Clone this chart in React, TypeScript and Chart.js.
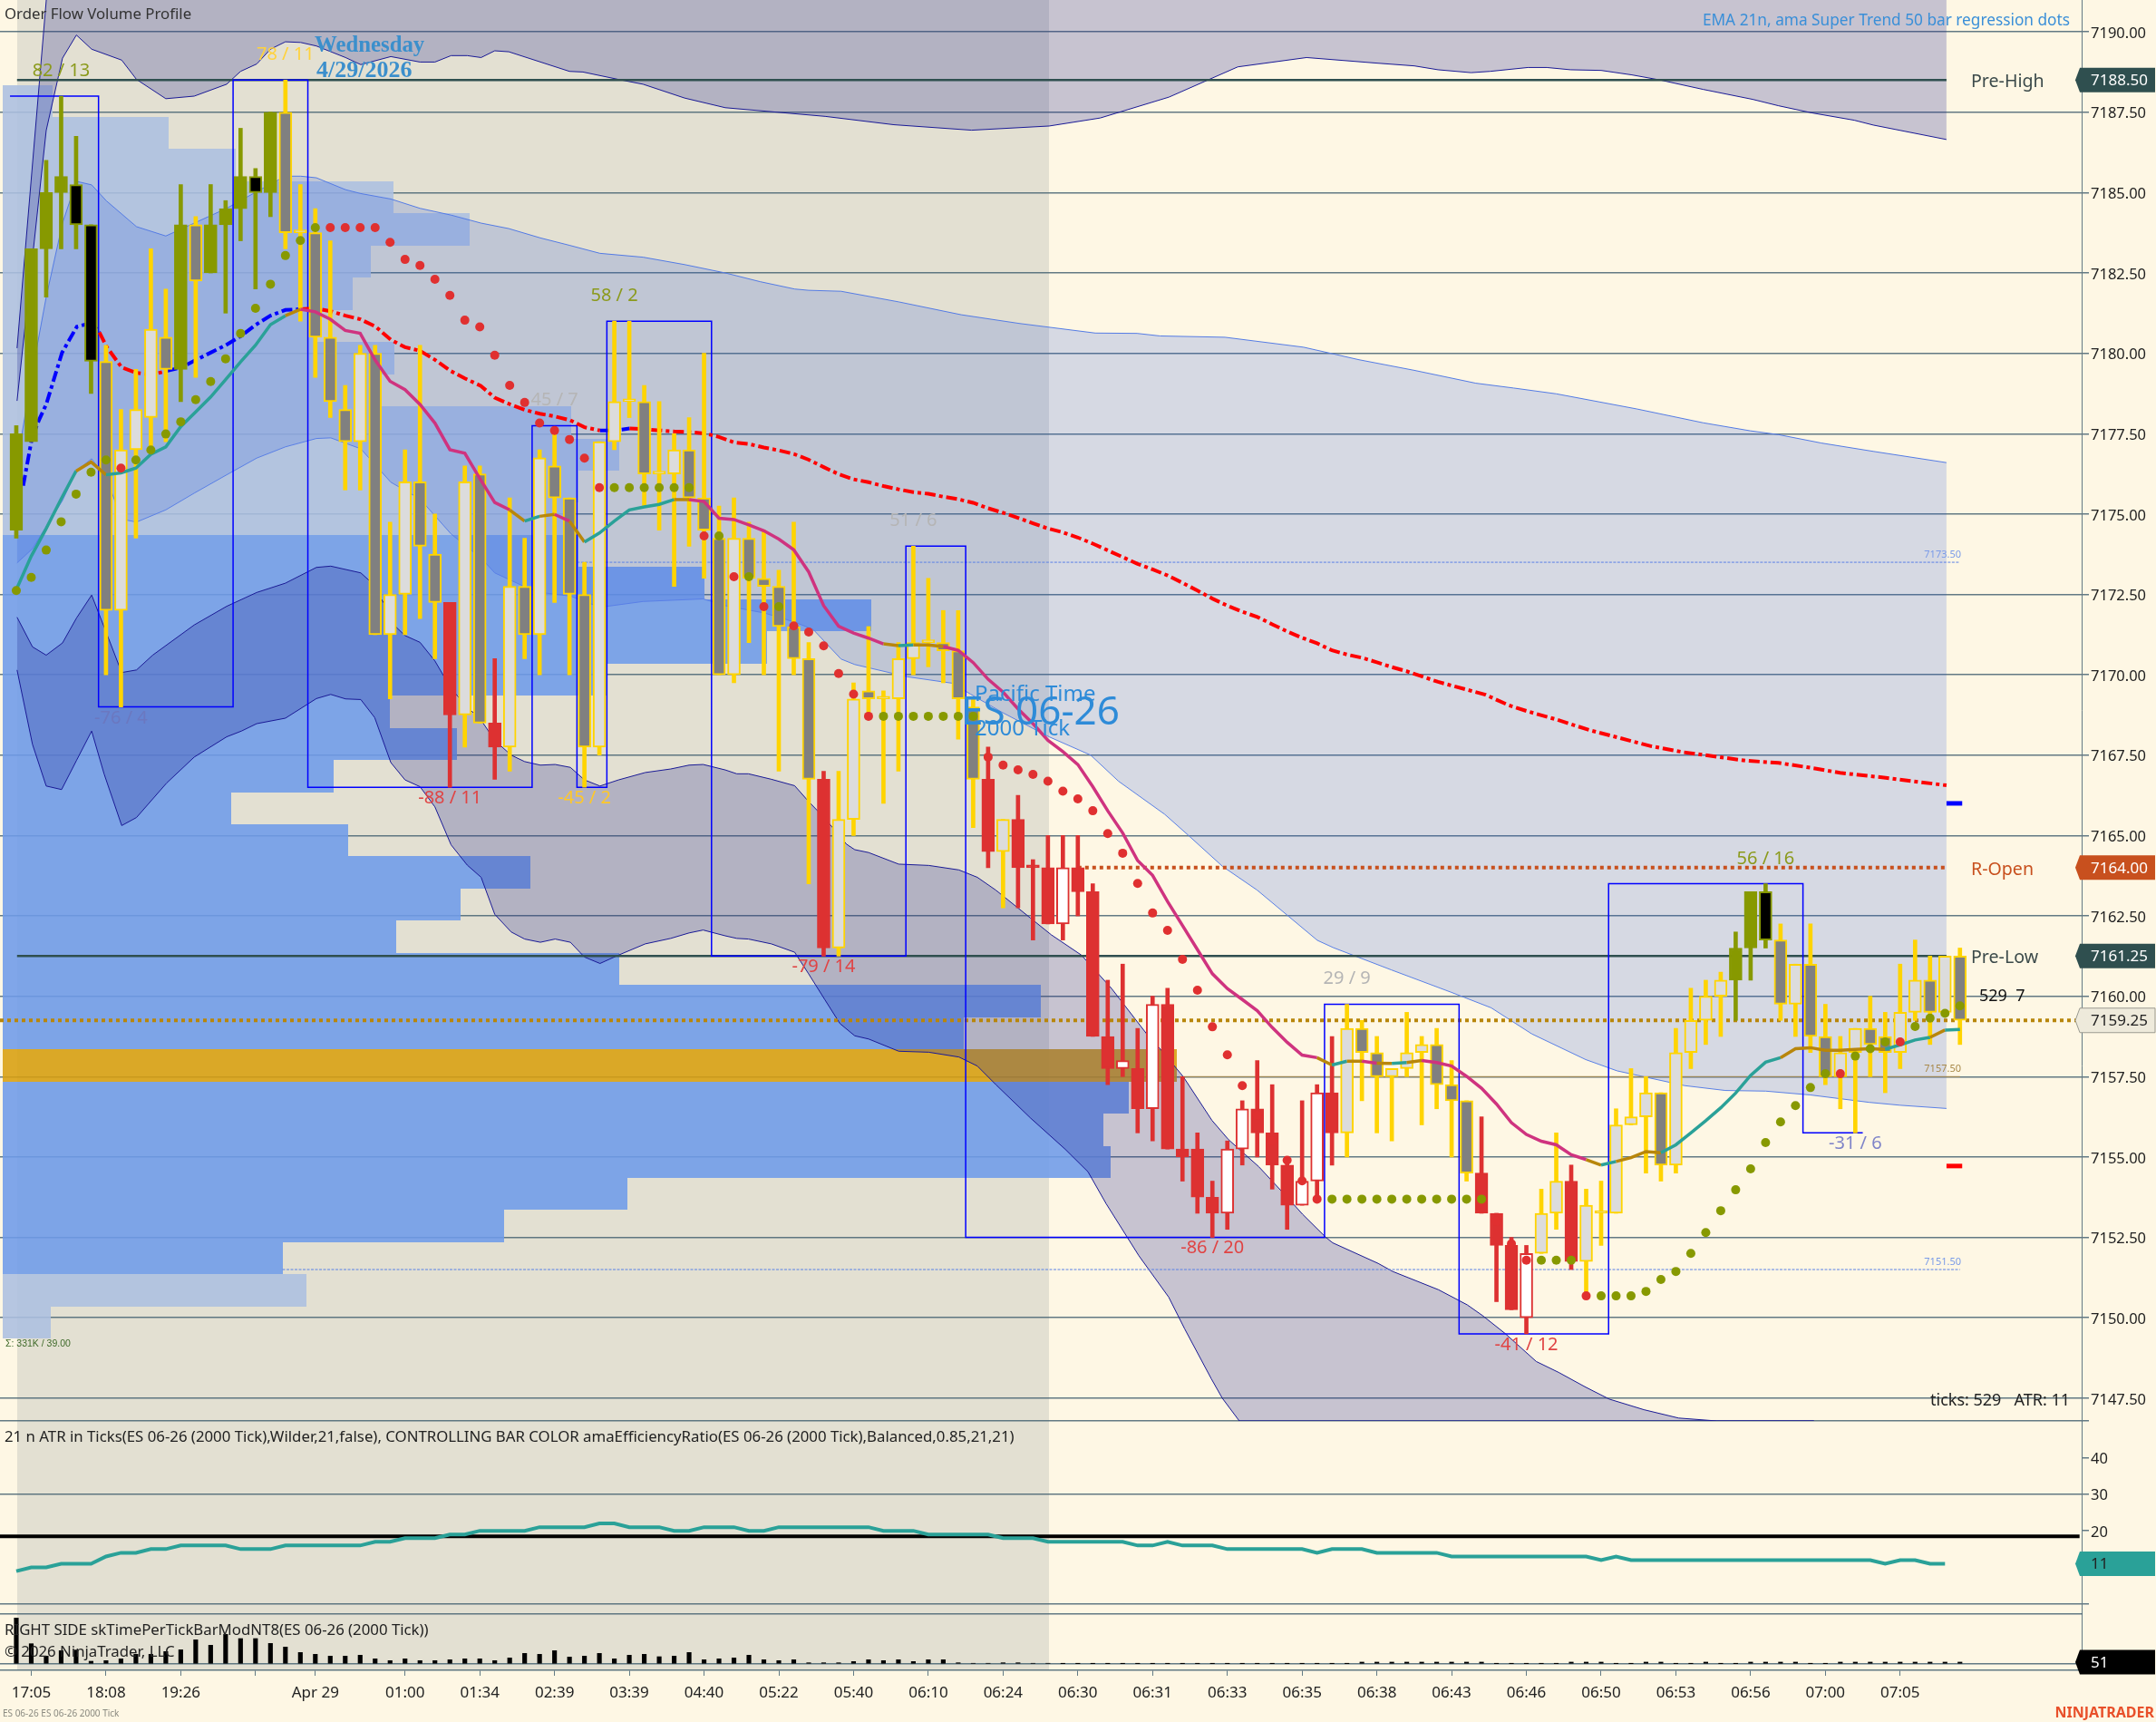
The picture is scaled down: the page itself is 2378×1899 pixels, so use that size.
import React, { useEffect, useRef } from "react";
import { Chart, registerables } from "chart.js";

Chart.register(...registerables);

const bodyTop = [
  7177.5,7183.25,7185,7185.5,7185.25,7184,7179.75,7177,7178.25,7180.75,
  7180.5,7184,7184,7184,7184.5,7185.5,7185.5,7187.5,7187.5,7183.75,
  7183.75,7180.5,7178.25,7180,7180,7172.5,7176,7176,7173.75,7172.25,
  7176,7176.25,7168.5,7172.75,7172.75,7176.75,7176.5,7175.5,7172.5,7177.25,
  7178.5,7178.5,7178.5,7176.25,7177,7177,7175.5,7174.25,7174.25,7174.25,
  7173,7172.75,7171.5,7170.5,7166.75,7165.5,7169.25,7169.5,7169.25,7170.5,
  7171,7171,7171,7170.75,7169,7166.75,7165.5,7165.5,7164,7164,
  7164,7164,7163.25,7158.75,7158,7157.75,7159.75,7159.75,7155.25,7155.25,
  7153.75,7155.25,7156.5,7156.5,7155.75,7154.75,7154.25,7157,7157,7159,
  7159,7158.25,7157.75,7158.25,7158.5,7158.5,7157.25,7156.75,7154.5,7153.25,
  7152.25,7152,7153.25,7154.25,7154.25,7153.5,7153.25,7156,7156.25,7157,
  7157,7158.25,7159.25,7160,7160.5,7161.5,7163.25,7163.25,7161.75,7161,
  7161,7158.75,7158.25,7159,7159,7158.75,7159.5,7160.5,7160.5,7161.25,7161.25,
];
const bodyBot = [
  7174.5,7177.25,7183.25,7185,7184,7179.75,7172,7172,7177,7178,
  7179.5,7179.5,7182.25,7182.5,7184,7184.5,7185,7185,7183.75,7183.75,
  7180.5,7178.5,7177.25,7177.25,7171.25,7171.25,7172.5,7174,7172.25,7168.75,
  7168.75,7168.5,7167.75,7167.75,7171.25,7171.25,7175.5,7172.5,7167.75,7167.75,
  7177.25,7178.5,7176.25,7176.25,7176.25,7175.5,7174.5,7170,7170,7173,
  7172.75,7171.5,7170.5,7166.75,7161.5,7161.5,7165.5,7169.25,7169.25,7169.25,
  7170.5,7171,7170.75,7169.25,7166.75,7164.5,7164.5,7164,7164,7162.25,
  7162.25,7163.25,7158.75,7157.75,7157.75,7156.5,7156.5,7155.25,7155,7153.75,
  7153.25,7153.25,7155.25,7155.75,7154.75,7153.5,7153.5,7154.25,7155.75,7155.75,
  7158.25,7157.5,7157.5,7157.75,7158.25,7157.25,7156.75,7154.5,7153.25,7152.25,
  7150.25,7150,7152,7153.25,7151.75,7151.75,7153.25,7153.25,7156,7156.25,
  7154.75,7154.75,7158.25,7159.25,7160,7160.5,7161.5,7161.75,7159.75,7159.75,
  7158.75,7157.5,7157.5,7158.25,7158.5,7158.25,7158.25,7159.5,7159.5,7159.5,7159.25,
];
const wickHigh = [
  7177.75,7183.25,7186,7188,7186.75,7184,7180.25,7178.25,7179.5,7183.25,
  7182,7185.25,7184.25,7185.25,7184.75,7187,7185.75,7187.5,7188.5,7185.25,
  7184.5,7183.5,7179,7180.25,7180.25,7174.75,7177,7180.25,7175,7172.25,
  7176.5,7176.5,7170.5,7175.5,7174.25,7177,7177.5,7175.5,7173.5,7177.25,
  7181,7181,7179,7178.5,7177.5,7178,7180,7175.25,7175.5,7174.75,
  7174.5,7173.25,7174.75,7171,7167,7167,7169.75,7171.5,7169.5,7171,
  7174,7173,7172,7172,7169.25,7167.75,7165.5,7166.25,7164.25,7165,
  7165,7165,7163.5,7160.5,7161,7159,7160,7160.25,7157.5,7155.75,
  7154.25,7155.5,7156.75,7158,7157.25,7155,7156.75,7157.25,7158.75,7159.75,
  7159.25,7158.75,7157.75,7159.5,7158.75,7159,7158,7156.75,7156.25,7153.25,
  7152.5,7152.25,7154,7155.75,7154.75,7154,7154.25,7156.5,7157.75,7157.5,
  7157,7159,7160.25,7160.5,7160.75,7162,7163.25,7163.5,7162.25,7161,
  7162.25,7159.75,7158.75,7159,7160,7159.5,7161,7161.75,7161.25,7161.25,7161.5,
];
const wickLow = [
  7174.25,7177.25,7181.75,7183.25,7183.25,7178.75,7170,7169,7174.25,7177,
  7177.25,7178.5,7179.25,7182.5,7181.25,7183.5,7182,7184.25,7183.25,7181,
  7179.25,7178,7175.75,7175.75,7171.25,7169.25,7171.25,7171.75,7170.5,7166.5,
  7167.75,7168.5,7166.75,7167,7170.5,7170,7172.25,7170,7166.5,7167.5,
  7177,7178,7175.25,7174.5,7172.75,7174,7173,7170,7169.75,7171,
  7170,7167,7170,7163.5,7161.25,7161.25,7165,7168.75,7166,7167,
  7170,7170.25,7169.75,7168,7165.25,7164,7162.75,7162.75,7161.75,7162.25,
  7161.75,7162.5,7158.75,7157.25,7157.5,7155.75,7155.5,7155.25,7154.25,7153.25,
  7152.5,7152.75,7154.75,7155,7154,7152.75,7153.5,7153.75,7154.75,7155,
  7156.75,7155.75,7155.5,7157.5,7156,7156.5,7155,7154.25,7153.25,7150.5,
  7150.25,7149.5,7152,7152.75,7151.5,7150.75,7152.25,7153.25,7156,7154.5,
  7154.25,7154.5,7157.75,7158.5,7158.75,7159.25,7160.5,7161.5,7159.25,7158.75,
  7158.25,7157.25,7156.5,7155.75,7157.5,7157,7157.75,7159.25,7158.5,7159.5,7158.5,
];
// O olive, K black body, G grey body, L light body, R solid red, W hollow red
const barKinds = [
  "OOOOKKGLLL","GOGOOOKOGL","GGGLGLLGGR","LGRLGLGGGL","LLGLLGGGLG","GGGGRLLGLL","LLGGGRLRRR",
  "WRRRWRWRRR","RWWRRRWWRL","GGLLLGGGRR","RWLLRLLLLL","GLLLLOOKGL","GGLLGGLLGLG",
].join("");

const emaValues = [
  7172.65,7173.69,7174.55,7175.47,7176.34,7176.62,7176.22,7176.28,7176.43,7176.86,
  7177.09,7177.72,7178.18,7178.64,7179.18,7179.73,7180.25,7180.89,7181.17,7181.37,
  7181.29,7181.06,7180.71,7180.62,7179.79,7179.13,7178.87,7178.41,7177.83,7177,
  7176.89,7176.11,7175.36,7175.13,7174.78,7174.93,7174.99,7174.78,7174.13,7174.41,
  7174.78,7175.13,7175.22,7175.3,7175.45,7175.45,7175.39,7174.87,7174.83,7174.66,
  7174.48,7174.22,7173.89,7173.2,7172.15,7171.51,7171.3,7171.14,7170.96,7170.91,
  7170.93,7170.93,7170.88,7170.76,7170.38,7169.86,7169.46,7168.94,7168.48,7167.96,
  7167.61,7167.21,7166.52,7165.77,7165.08,7164.22,7163.76,7162.95,7162.2,7161.45,
  7160.7,7160.24,7159.9,7159.55,7159.03,7158.57,7158.17,7158.09,7157.86,7157.98,
  7157.98,7157.92,7157.91,7157.94,7158,7157.94,7157.83,7157.51,7157.14,7156.65,
  7156.07,7155.7,7155.49,7155.38,7155.07,7154.92,7154.75,7154.86,7154.98,7155.17,
  7155.13,7155.38,7155.75,7156.13,7156.53,7156.99,7157.54,7157.95,7158.09,7158.37,
  7158.4,7158.32,7158.32,7158.35,7158.37,7158.35,7158.49,7158.64,7158.72,7158.95,7158.97,
];
const emaRegimes: [number, string][] = [
  [0,"t"],[4,"b"],[6,"t"],[18,"b"],[19,"p"],[33,"b"],[34,"t"],[35,"b"],[36,"p"],[37,"b"],[38,"t"],
  [44,"b"],[45,"p"],[58,"b"],[59,"t"],[60,"b"],[62,"p"],[87,"b"],[88,"t"],[89,"b"],[90,"p"],[91,"b"],
  [92,"t"],[93,"b"],[94,"p"],[105,"b"],[106,"t"],[107,"b"],[110,"t"],[118,"b"],[125,"t"],[128,"b"],[129,"t"],
];

const dotValues = [
  7172.62,7173.03,7173.88,7174.76,7175.62,7176.3,7176.68,7176.43,7176.68,7176.99,
  7177.49,7177.87,7178.56,7179.12,7179.83,7180.62,7181.4,7182.15,7183.04,7183.51,
  7183.91,7183.91,7183.91,7183.91,7183.91,7183.45,7182.92,7182.73,7182.3,7181.8,
  7181.03,7180.82,7179.94,7179,7178.47,7177.83,7177.6,7177.32,7176.74,7175.82,
  7175.82,7175.82,7175.82,7175.82,7175.82,7175.82,7174.32,7174.32,7173.05,7173.05,
  7172.12,7172.12,7171.52,7171.33,7170.9,7170.04,7169.4,7168.71,7168.71,7168.71,
  7168.71,7168.71,7168.71,7168.71,7168.71,7167.44,7167.19,7167.04,7166.9,7166.69,
  7166.38,7166.14,7165.77,7165.06,7164.45,7163.51,7162.59,7162.05,7161.15,7160.19,
  7159.05,7158.18,7157.22,7156.3,7155.5,7154.9,7154.26,7153.69,7153.69,7153.69,
  7153.69,7153.69,7153.69,7153.69,7153.69,7153.69,7153.69,7153.69,7153.69,7153,
  7152.3,7151.79,7151.79,7151.79,7151.79,7150.68,7150.68,7150.68,7150.68,7150.82,
  7151.19,7151.44,7152,7152.65,7153.33,7153.98,7154.63,7155.45,7156.09,7156.6,
  7157.16,7157.59,7157.59,7158.14,7158.37,7158.58,7158.58,7159.06,7159.32,7159.47,7159.7,
];
const dotRuns: [number, string][] = [
  [7,"O"],[1,"R"],[13,"O"],[19,"R"],[6,"O"],[1,"R"],[1,"O"],[1,"R"],[1,"O"],[1,"R"],[1,"O"],[6,"R"],
  [7,"O"],[23,"R"],[11,"O"],[3,"R"],[3,"O"],[1,"R"],[16,"O"],[1,"R"],[3,"O"],[1,"R"],[4,"O"],
];

const amaLine: [number, number][] = [
  [0.46,7175.88],[1.05,7177.37],[1.54,7177.95],[2,7178.41],[3.06,7180.02],[4.05,7180.83],[5.04,7180.94],[5.56,7180.65],
  [6.06,7180.19],[7.05,7179.56],[8.04,7179.39],[9.03,7179.33],[10.05,7179.45],[11.04,7179.56],[12,7179.79],[13,7180.02],
  [14,7180.25],[15.03,7180.54],[16.02,7180.89],[17,7181.17],[18,7181.35],[19.02,7181.37],[20,7181.4],[21.03,7181.31],
  [22.02,7181.17],[23.01,7181.06],[24.03,7180.83],[25.05,7180.42],[26,7180.19],[27,7180.08],[28.03,7179.79],[29.05,7179.45],
  [30,7179.22],[31.06,7178.99],[32,7178.62],[33.04,7178.41],[34.03,7178.24],[35.02,7178.12],[36,7178.04],[37.03,7177.92],
  [38,7177.7],[39.04,7177.6],[40.03,7177.6],[41.02,7177.66],[42,7177.64],[43.06,7177.6],[44,7177.57],[45,7177.55],
  [46.03,7177.51],[47,7177.4],[48,7177.23],[49,7177.18],[50,7177.07],[51,7176.98],[52,7176.87],[53,7176.69],
  [54,7176.46],[55,7176.24],[56,7176.08],[57,7175.99],[58,7175.87],[59,7175.77],[60,7175.68],[61,7175.63],
  [62,7175.54],[63,7175.46],[64,7175.35],[65,7175.18],[66,7175.04],[67,7174.88],[68,7174.71],[69,7174.55],
  [70,7174.43],[71,7174.27],[72,7174.08],[73,7173.87],[74,7173.66],[75,7173.45],[76,7173.28],[77,7173.09],
  [78,7172.86],[79,7172.62],[80,7172.37],[81,7172.15],[82,7171.96],[83,7171.8],[84,7171.57],[85,7171.35],
  [86,7171.15],[87,7170.98],[88,7170.76],[89,7170.63],[90,7170.53],[91,7170.39],[92,7170.24],[93,7170.11],
  [95.09,7169.78],[97,7169.54],[98.26,7169.38],[99.84,7169.05],[101.1,7168.86],[103,7168.61],[105.22,7168.28],[107.11,7168.05],
  [109.33,7167.78],[111.54,7167.59],[113.76,7167.45],[115.65,7167.33],[117.87,7167.26],[120.4,7167.08],[121.98,7166.95],[125.15,7166.79],[129.1,7166.56],
];
const amaBlueSpans: [number, number][] = [[0,5.3],[9.5,19],[39,41]];

const bandTop: [number, number][] = [[0.05,7180.16],[2,7190.96],[3,7197],[129.1,7197]];
const bandA: [number, number][] = [
  [0.05,7178.52],[2,7186.93],[3.09,7189.18],[4.02,7189.9],[5.04,7189.46],[7.05,7189.12],[8.04,7188.52],[10,7187.92],[11.9,7188],
  [14.07,7188.37],[15,7188.77],[16.08,7189],[17,7189.46],[18,7189.69],[19.02,7189.67],[20.07,7189.56],[22.02,7189.2],[23.04,7188.98],
  [25.05,7189.23],[27,7189.06],[28,7189.06],[29.08,7189.26],[30.16,7189.26],[31.09,7189.2],[32,7189.41],[32.94,7189.38],[37,7188.77],
  [37.9,7188.75],[40.37,7188.51],[41.92,7188.37],[44.7,7187.94],[47.42,7187.64],[54.1,7187.37],[58.7,7187.11],[63.9,7186.94],[69.08,7187.07],
  [72.5,7187.32],[77.1,7187.97],[81.7,7188.91],[86.3,7189.2],[90.9,7189.03],[93.51,7188.94],[95.09,7188.82],[97.3,7188.73],[98.57,7188.77],
  [101.1,7188.89],[102.37,7188.89],[103.95,7188.82],[106,7188.8],[108.06,7188.66],[109.96,7188.5],[112.81,7188.21],[116.13,7187.9],
  [117.87,7187.7],[120.08,7187.48],[122.93,7187.25],[124.2,7187.1],[129.1,7186.65],
];
const bandB: [number, number][] = [
  [0.05,7176.57],[1.08,7179.45],[2,7181.75],[3.09,7184.05],[4.02,7185.35],[5.04,7185.24],[6.03,7184.74],[8.04,7183.94],[10,7183.65],
  [11.9,7184.05],[14.07,7184.51],[16.08,7185.03],[18,7185.51],[19.02,7185.51],[20.07,7185.46],[22.02,7185.09],[23.04,7184.97],[25.05,7184.8],
  [27,7184.51],[29.08,7184.3],[31.09,7184.05],[32.94,7183.88],[35.05,7183.59],[37,7183.36],[39.04,7183.11],[41.92,7182.99],[44.7,7182.76],
  [47.42,7182.5],[49.74,7182.23],[52.06,7182],[53,7181.96],[55.16,7181.93],[59.02,7181.6],[63.2,7181.2],[67.07,7180.93],[72.17,7180.63],
  [74.96,7180.62],[76.5,7180.54],[80.84,7180.5],[86.1,7180.19],[89.81,7179.8],[93.51,7179.47],[97.62,7179.07],[100.15,7178.92],[103,7178.74],
  [108.38,7178.27],[112.81,7177.84],[115.97,7177.59],[117.87,7177.47],[120.72,7177.21],[124.2,7176.95],[129.1,7176.6],
];
const bandC: [number, number][] = [
  [0.05,7173.48],[1.08,7173.92],[2,7174.61],[3.09,7175.42],[4.02,7176.34],[5.04,7176.72],[6.03,7176.11],[7.05,7174.84],[8.04,7174.75],[10,7175.13],
  [11.9,7175.65],[14.07,7176.22],[16.08,7176.74],[18,7177.09],[20.07,7177.35],[21.03,7177.37],[23.04,7177.03],[25.05,7175.99],[27,7175.47],
  [29.08,7174.38],[31.09,7173.63],[32,7173.17],[34,7172.74],[35.05,7172.56],[37.06,7172.45],[39.04,7172.1],[41.92,7172.28],[45.94,7172.36],
  [47.42,7172.15],[50.05,7171.92],[52.06,7171.64],[53.3,7171.41],[55.16,7170.49],[56.08,7170.32],[59.58,7169.94],[62.58,7169.74],[63.82,7169.4],
  [65.98,7168.82],[69.08,7168.07],[71.86,7167.5],[73.72,7166.69],[76.81,7165.66],[78.36,7165.02],[80.68,7164.04],[83,7163.3],[87.02,7161.74],
  [88.1,7161.51],[91.97,7160.82],[95.94,7160.13],[98.65,7159.64],[101.36,7158.83],[104.97,7158.03],[107.07,7157.68],[111.59,7157.22],[114.3,7157.07],
  [117,7157.05],[120,7156.93],[123.93,7156.7],[126,7156.61],[129.1,7156.51],
];
const bandD: [number, number][] = [
  [0.05,7171.79],[1.08,7170.87],[2,7170.61],[3.09,7170.99],[4.02,7171.76],[5.04,7172.48],[6.03,7171.3],[7.05,7170.07],[8.04,7170.15],[9.12,7170.61],
  [11.9,7171.55],[14.07,7172.13],[16.08,7172.56],[18,7172.85],[20.07,7173.34],[21.03,7173.38],[23.04,7173.17],[23.66,7172.91],[24.6,7172.22],[25.05,7171.64],
  [26,7171.22],[27,7171.01],[28,7170.43],[29.08,7169.57],[30.16,7169],[31.09,7168.59],[32,7167.96],[33.1,7167.5],[34,7167.3],[35.05,7167.19],[36.04,7167.21],
  [37.06,7167.12],[38,7166.73],[39.04,7166.54],[40.28,7166.73],[42.07,7166.96],[43.77,7167.07],[45,7167.19],[45.94,7167.21],[47.42,7167.04],[48.19,7166.92],
  [48.97,7166.92],[50.5,7166.75],[52.06,7166.55],[52.99,7166.06],[54.07,7165.54],[55.53,7164.73],[56.08,7164.56],[57.01,7164.47],[59.02,7164.11],[61.03,7164.07],
  [63.05,7163.93],[64.28,7163.7],[65.52,7163.3],[67.84,7162.43],[69.23,7161.91],[71.24,7161.28],[73.26,7160.24],[75.62,7158.82],[76.53,7158.35],[78.05,7157.5],
  [79.97,7156.14],[81.08,7155.54],[83.1,7154.7],[85.02,7153.74],[86.03,7153.22],[87.59,7152.5],[88.05,7152.33],[91.09,7151.69],[92.06,7151.44],[95.13,7150.87],
  [97.05,7150.4],[98.06,7150.07],[99.58,7149.51],[101.66,7148.64],[103.16,7148.3],[104.97,7147.84],[106.54,7147.47],[108.86,7147.14],[111.18,7146.88],[113.74,7146.79],[120.23,7146.79],
];
const bandE: [number, number][] = [
  [0.05,7170.15],[1.08,7167.84],[2,7166.54],[3.03,7166.43],[4.02,7167.33],[5.04,7168.25],[5.87,7166.92],[7.05,7165.31],[8.04,7165.56],[10.05,7166.63],[11.9,7167.44],
  [14.07,7168.07],[15.06,7168.25],[16.08,7168.48],[18,7168.65],[20.07,7169.26],[21.03,7169.39],[22.02,7169.25],[23.04,7169.23],[23.97,7168.67],[25.05,7167.27],[26,7166.73],
  [27,7166.52],[28,7165.89],[29.08,7164.71],[30.16,7164.08],[31.09,7163.7],[32,7162.55],[33.1,7162],[34,7161.78],[35.05,7161.68],[36.04,7161.78],[37.06,7161.68],[38,7161.22],
  [39.04,7161.02],[40.28,7161.28],[42.07,7161.63],[43.77,7161.8],[45,7161.97],[45.94,7162.06],[47.42,7161.88],[48.19,7161.8],[48.97,7161.78],[50.5,7161.63],[52.06,7161.37],
  [52.99,7160.7],[54.07,7159.9],[55.09,7159.15],[56.08,7158.77],[57.01,7158.67],[59.02,7158.29],[61.03,7158.26],[63.05,7158.11],[64.28,7157.83],[65.52,7157.25],[67.84,7156.21],
  [70.16,7155.24],[71.68,7154.54],[72.89,7153.55],[75.08,7151.93],[77.08,7150.64],[78.15,7149.65],[79.93,7148.1],[80.66,7147.5],[81.8,7146.79],[120.23,7146.79],
];

const swingSteps: [number, number][] = [
  [-0.42,7188],[5.5,7188],[5.5,7169],[14.5,7169],[14.5,7188.5],[19.5,7188.5],[19.5,7166.5],[34.5,7166.5],[34.5,7177.75],[37.5,7177.75],[37.5,7166.5],
  [39.5,7166.5],[39.5,7181],[46.5,7181],[46.5,7161.25],[59.5,7161.25],[59.5,7174],[63.5,7174],[63.5,7152.5],[87.5,7152.5],[87.5,7159.75],[96.5,7159.75],
  [96.5,7149.5],[106.5,7149.5],[106.5,7163.5],[119.5,7163.5],[119.5,7155.75],[123.5,7155.75],
];

const vpTopPrice = 7188.35;
const vpExtent = [
  2.4,10.2,14.7,25.2,30.3,23.7,22.5,20,25.3,23.7,37.1,40.3,37.6,36.6,37.6,46,57.2,50.2,39.5,25,
  29.5,21.2,14.4,22.2,34.4,29.7,25.4,40.3,68.5,63.4,77.6,74.4,72.7,73.2,40.9,32.6,17.8,19.4,2.3,
];
const vpKinds = "LLLLLLLLLLLLLLSSSSSSSSSSSSSSSSPSSSSSSLL";

const deltaText = ["82 / 13","78 / 11","58 / 2","45 / 7","-76 / 4","-88 / 11","-45 / 2","51 / 6","-79 / 14","-86 / 20","29 / 9","-41 / 12","56 / 16","-31 / 6"];
const deltaBar = [3,18,40,36,7,29,38,60,54,80,89,101,117,123];
const deltaPrice = [7188.79,7189.29,7181.79,7178.55,7168.65,7166.16,7166.16,7174.8,7160.92,7152.17,7160.55,7149.15,7164.27,7155.42];
const deltaColor = ["#8b9a1c","#ffd23c","#8b9a1c","#b5b5b5","#6b78c0","#e04444","#ffc828","#b5b5b5","#e04444","#e04444","#b5b5b5","#e04444","#8b9a1c","#7f84c8"];

const atrValues = [
  9,10,10,11,11,11,13,14,14,15,15,16,16,16,16,15,15,15,16,16,16,16,16,16,17,17,18,18,18,19,19,20,20,20,20,21,21,21,21,22,22,21,21,21,20,20,21,21,21,20,
  20,21,21,21,21,21,21,21,20,20,20,19,19,19,19,19,18,18,18,17,17,17,17,17,17,16,16,17,16,16,16,15,15,15,15,15,15,14,15,15,15,14,14,14,14,14,13,13,13,13,
  13,13,13,13,13,13,12,13,12,12,12,12,12,12,12,12,12,12,12,12,12,12,12,12,12,11,12,12,11,11,
];
const atrThreshold = 18.5;
const secondsPerBar = [
  1266,558,216,366,383,75,92,141,266,266,342,391,666,516,816,700,700,566,466,316,266,216,216,241,141,92,141,92,92,116,141,141,92,166,291,266,366,191,216,291,
  141,241,266,200,216,316,116,141,166,241,116,92,116,33,33,33,66,116,92,116,66,116,116,33,17,17,33,33,17,17,
  8,8,8,8,8,8,8,8,8,8,8,8,8,8,8,8,8,8,8,8,51,51,51,51,51,51,51,51,51,8,8,8,8,8,51,51,51,8,8,51,51,8,8,51,8,8,51,51,51,51,8,8,51,51,51,51,51,51,51,51,51,
];

const tickBars = [1,6,11,16,20,26,31,36,41,46,51,56,61,66,71,76,81,86,91,96,101,106,111,116,121,126];
const tickLabels = ["17:05","18:08","19:26","","Apr 29","01:00","01:34","02:39","03:39","04:40","05:22","05:40","06:10","06:24","06:30","06:31","06:33","06:35","06:38","06:43","06:46","06:50","06:53","06:56","07:00","07:05"];

const preHigh = 7188.5;
const preLow = 7161.25;
const regularOpen = 7164;
const lastPrice = 7159.25;
const volLevelHigh = 7173.5;
const volLevelPoc = 7157.5;
const volLevelLow = 7151.5;
const askMark = 7166;
const bidMark = 7154.72;
const sessionStartBar = 0.06;
const sessionEndBar = 69.07;
const lastAtr = 11;
const lastSeconds = 51;

const FONT = '"Noto Sans", sans-serif';
const YELLOW = "#ffd400";
const OLIVE = "#879900";
const RED = "#dd3131";
const GRID = "rgba(72,100,115,0.85)";
const kindFill: Record<string, string> = { O: OLIVE, K: "#000000", G: "#808080", L: "#dcdcdc", R: RED, W: "#ffffff" };
const kindEdge: Record<string, string> = { O: OLIVE, K: OLIVE, G: YELLOW, L: YELLOW, R: RED, W: RED };
const emaColors: Record<string, string> = { t: "#2aa198", p: "#cf337f", b: "#b8860b" };
const vpColors: Record<string, string> = { L: "rgba(172,191,224,0.88)", S: "rgba(110,155,233,0.88)", P: "rgba(216,159,15,0.88)" };

const pts = (a: [number, number][]) => a.map(([x, y]) => ({ x, y }));
const flat = (a: number, b: number, y: number) => [{ x: a, y }, { x: b, y }];
const dotKinds = dotRuns.flatMap(([n, k]) => Array(n).fill(k));
const emaRegimeAt = (i: number) => {
  let k = "t";
  for (const [s, c] of emaRegimes) if (i >= s) k = c;
  return emaColors[k];
};

const lineDs = (data: any[], color: string, width: number, order: number, extra: any = {}) => ({
  type: "line" as const, data, borderColor: color, borderWidth: width, pointRadius: 0, tension: 0, order, yAxisID: "y", ...extra,
});

const chrome = {
  id: "chrome",
  beforeDraw(c: any) {
    const { ctx, scales: { x } } = c;
    ctx.save();
    ctx.fillStyle = "#fef7e4";
    ctx.fillRect(0, 0, c.width, c.height);
    const a = x.getPixelForValue(sessionStartBar);
    const b = x.getPixelForValue(sessionEndBar);
    ctx.fillStyle = "#e3e0d2";
    ctx.fillRect(a, 0, b - a, c.chartArea.bottom);
    ctx.restore();
  },
  beforeDatasetsDraw(c: any) {
    const { ctx, scales: { x, y } } = c;
    ctx.save();
    const left = Math.round(x.getPixelForValue(-0.91));
    vpExtent.forEach((e, i) => {
      const t = Math.round(y.getPixelForValue(vpTopPrice - i));
      const b = Math.round(y.getPixelForValue(vpTopPrice - i - 1));
      ctx.fillStyle = vpColors[vpKinds[i]];
      ctx.fillRect(left, t, Math.round(x.getPixelForValue(e)) - left, b - t);
    });
    ctx.restore();
  },
  afterDatasetsDraw(c: any) {
    const { ctx, scales: { x, y } } = c;
    const text = (s: string, px: number, py: number, font: string, color: string, align: CanvasTextAlign = "left") => {
      ctx.font = font; ctx.fillStyle = color; ctx.textAlign = align; ctx.textBaseline = "middle";
      ctx.fillText(s, px, py);
    };
    ctx.save();
    deltaText.forEach((s, i) => text(s, x.getPixelForValue(deltaBar[i]), y.getPixelForValue(deltaPrice[i]), `20px ${FONT}`, deltaColor[i], "center"));
    text("Order Flow Volume Profile", 5, 16, `16.8px ${FONT}`, "#333333");
    text("Wednesday", 347, 51, `bold 24.8px "Liberation Serif", serif`, "#3b8fcc");
    text("4/29/2026", 349, 78, `bold 26px "Liberation Serif", serif`, "#3b8fcc");
    text("ES 06-26", 1060, 786, `44px ${FONT}`, "#2e8bd8");
    text("Pacific Time", 1075, 766, `24px ${FONT}`, "#2e8bd8");
    text("2000 Tick", 1075, 804, `24px ${FONT}`, "#2e8bd8");
    text("EMA 21n, ama Super Trend 50 bar regression dots", 2283, 23, `17.25px ${FONT}`, "#3a8fd8", "right");
    text("Pre-High", 2174, 90, `19.6px ${FONT}`, "#3c4a4a");
    text("R-Open", 2174, 959, `19.6px ${FONT}`, "#c8501e");
    text("Pre-Low", 2174, 1056, `19.6px ${FONT}`, "#3c4a4a");
    text("529  7", 2183, 1099, `18px ${FONT}`, "#111111");
    text("ticks: 529   ATR: 11", 2283, 1545, `18px ${FONT}`, "#222222", "right");
    text("7173.50", 2163, y.getPixelForValue(volLevelHigh) - 8, `11px ${FONT}`, "#7a9be8", "right");
    text("7157.50", 2163, y.getPixelForValue(volLevelPoc) - 8, `11px ${FONT}`, "#a8894a", "right");
    text("7151.50", 2163, y.getPixelForValue(volLevelLow) - 8, `11px ${FONT}`, "#7a9be8", "right");
    text("Σ: 331K / 39.00", 6, 1482, `10.5px "Liberation Sans", sans-serif`, "#3f6a2a");
    text("21 n ATR in Ticks(ES 06-26 (2000 Tick),Wilder,21,false), CONTROLLING BAR COLOR amaEfficiencyRatio(ES 06-26 (2000 Tick),Balanced,0.85,21,21)", 5, 1585, `16.8px ${FONT}`, "#222222");
    text("RIGHT SIDE skTimePerTickBarModNT8(ES 06-26 (2000 Tick))", 5, 1798, `16.8px ${FONT}`, "#222222");
    text("© 2026 NinjaTrader, LLC", 5, 1822, `16.8px ${FONT}`, "#222222");
    ctx.restore();
  },
  afterDraw(c: any) {
    const { ctx, scales: { y, yATR, yTime } } = c;
    const tag = (py: number, h: number, bg: string, fg: string, label: string, edge?: string) => {
      ctx.beginPath();
      ctx.moveTo(2289, py);
      ctx.lineTo(2294, py - h / 2);
      ctx.lineTo(2377, py - h / 2);
      ctx.lineTo(2377, py + h / 2);
      ctx.lineTo(2294, py + h / 2);
      ctx.closePath();
      ctx.fillStyle = bg;
      ctx.fill();
      if (edge) { ctx.strokeStyle = edge; ctx.lineWidth = 1; ctx.stroke(); }
      ctx.fillStyle = fg;
      ctx.font = `17px ${FONT}`;
      ctx.textAlign = "left";
      ctx.textBaseline = "middle";
      ctx.fillText(label, 2306, py + 1);
    };
    ctx.save();
    tag(y.getPixelForValue(preHigh), 27, "#2f4f4f", "#ffffff", preHigh.toFixed(2));
    tag(y.getPixelForValue(regularOpen), 27, "#c8501e", "#ffffff", regularOpen.toFixed(2));
    tag(y.getPixelForValue(preLow), 27, "#2f4f4f", "#ffffff", preLow.toFixed(2));
    tag(y.getPixelForValue(lastPrice), 27, "#eeeadb", "#222222", lastPrice.toFixed(2), "#9a9a90");
    tag(yATR.getPixelForValue(lastAtr), 27, "#2aa198", "#222222", String(lastAtr));
    tag(yTime.getPixelForValue(lastSeconds), 27, "#000000", "#ffffff", String(lastSeconds));
    ctx.font = `10px ${FONT}`;
    ctx.fillStyle = "#8a8a80";
    ctx.textAlign = "left";
    ctx.textBaseline = "middle";
    ctx.fillText("ES 06-26 ES 06-26 2000 Tick", 3, 1890);
    ctx.font = `bold 16px ${FONT}`;
    ctx.fillStyle = "#e8502a";
    ctx.textAlign = "right";
    ctx.fillText("NINJATRADER", 2376, 1889);
    ctx.restore();
  },
};

const noPadding = (s: any) => { s.paddingTop = 0; s.paddingBottom = 0; s.paddingLeft = 0; s.paddingRight = 0; };

export default function App() {
  const ref = useRef<HTMLCanvasElement | null>(null);
  useEffect(() => {
    const bars = bodyTop.map((_, i) => i);
    const kind = (i: number) => barKinds[i];
    const datasets: any[] = [];
    const push = (d: any) => datasets.push(d) - 1;

    const iTop = push(lineDs(pts(bandTop), "#1a1a96", 1, 40));
    push(lineDs(pts(bandA), "#1a1a96", 1, 39, { fill: { target: iTop }, backgroundColor: "rgba(35,40,146,0.25)" }));
    const iB = push(lineDs(pts(bandB), "#5a80e6", 1, 38));
    push(lineDs(pts(bandC), "#5a80e6", 1, 37, { fill: { target: iB }, backgroundColor: "rgba(38,86,222,0.185)" }));
    const iD = push(lineDs(pts(bandD), "#1a1a96", 1, 36));
    push(lineDs(pts(bandE), "#1a1a96", 1, 35, { fill: { target: iD }, backgroundColor: "rgba(35,40,146,0.25)" }));

    push(lineDs(flat(0.05, 129.1, preHigh), "#2f4f4f", 2.5, 30));
    push(lineDs(flat(0.05, 129.1, preLow), "#2f4f4f", 2.5, 30));
    push(lineDs(flat(71, 129.1, regularOpen), "#c8501e", 4, 30, { borderDash: [4, 4] }));
    push(lineDs(flat(-1.09, 137.8, lastPrice), "#b8860b", 4, 30, { borderDash: [4, 4] }));
    push(lineDs(flat(37.5, 130, volLevelHigh), "#5a80e6", 1, 30, { borderDash: [3, 1.5] }));
    push(lineDs(flat(77.8, 130, volLevelPoc), "#a8894a", 1, 30));
    push(lineDs(flat(17.8, 130, volLevelLow), "#5a80e6", 1, 30, { borderDash: [3, 1.5] }));
    push(lineDs(flat(129.1, 130.15, askMark), "#0000ff", 5, 30));
    push(lineDs(flat(129.1, 130.15, bidMark), "#ff0000", 5, 30));
    push(lineDs(pts(swingSteps), "#0000ff", 1.5, 25));

    push(lineDs(pts(amaLine), "#ff0000", 4, 20, {
      borderDash: [12, 4, 4, 4],
      segment: {
        borderColor: (s: any) => amaBlueSpans.some(([a, b]) => s.p0.parsed.x >= a && s.p0.parsed.x < b) ? "#0000ff" : "#ff0000",
      },
    }));

    push({
      type: "bar", order: 12, yAxisID: "y", grouped: false, barThickness: 4,
      data: bars.map((i) => ({ x: i, y: [wickLow[i], wickHigh[i]] })),
      backgroundColor: bars.map((i) => kindEdge[kind(i)]),
    });
    push({
      type: "bar", order: 11, yAxisID: "y", grouped: false, barThickness: 14, minBarLength: 3, borderSkipped: false, borderWidth: 2,
      data: bars.map((i) => ({ x: i, y: [bodyBot[i], bodyTop[i]] })),
      backgroundColor: bars.map((i) => kindFill[kind(i)]),
      borderColor: bars.map((i) => kindEdge[kind(i)]),
    });

    push(lineDs(emaValues.map((y, x) => ({ x, y })), "#2aa198", 3.5, 5, {
      segment: { borderColor: (s: any) => emaRegimeAt(s.p0DataIndex) },
    }));
    push({
      type: "line", order: 3, yAxisID: "y", showLine: false,
      data: dotValues.map((y, x) => ({ x, y })),
      pointRadius: 5, pointBorderWidth: 0,
      pointBackgroundColor: dotKinds.map((k) => (k === "R" ? "#e03030" : OLIVE)),
    });

    push({
      type: "line", order: 2, yAxisID: "yATR", data: flat(-1.09, 138, atrThreshold),
      borderColor: "#000000", borderWidth: 4, pointRadius: 0,
    });
    push({
      type: "line", order: 1, yAxisID: "yATR", data: atrValues.map((y, x) => ({ x, y })),
      borderColor: "#2aa198", borderWidth: 4, pointRadius: 0, tension: 0,
    });
    push({
      type: "bar", order: 1, yAxisID: "yTime", grouped: false, barThickness: 4.5,
      data: secondsPerBar.map((y, x) => ({ x, y })), backgroundColor: "#000000",
    });

    const fixW = (s: any) => { s.width = 82; noPadding(s); };
    const chart = new Chart(ref.current as HTMLCanvasElement, {
      data: { datasets },
      plugins: [chrome],
      options: {
        animation: false,
        responsive: false,
        devicePixelRatio: 1,
        layout: { autoPadding: false, padding: 0 },
        plugins: { legend: { display: false }, tooltip: { enabled: false } },
        scales: {
          x: {
            type: "linear", min: -1.09, max: 138.14, position: "bottom", offset: false,
            afterFit: (s: any) => { s.height = 57; noPadding(s); },
            afterBuildTicks: (s: any) => { s.ticks = tickBars.map((value) => ({ value })); },
            grid: { drawOnChartArea: false, drawTicks: true, tickLength: 6, color: GRID, offset: false },
            border: { color: GRID, width: 1.5 },
            ticks: {
              autoSkip: false, maxRotation: 0, minRotation: 0, padding: 9, color: "#222222",
              font: { family: "Noto Sans", size: 17 },
              callback: (v: any) => tickLabels[tickBars.indexOf(Number(v))] ?? "",
            },
          },
          y: {
            type: "linear", position: "right", stack: "panes", stackWeight: 1567, min: 7146.79, max: 7190.99,
            afterFit: fixW,
            grid: { color: GRID, lineWidth: 1.5, tickLength: 8 },
            border: { color: GRID, width: 1 },
            ticks: {
              stepSize: 2.5, includeBounds: false, padding: 2, labelOffset: 2, color: "#222222",
              font: { family: "Noto Sans", size: 16.5 },
              callback: (v: any) => Number(v).toFixed(2),
            },
          },
          yATR: {
            type: "linear", position: "right", stack: "panes", stackWeight: 207, min: -1.25, max: 50,
            afterFit: fixW,
            afterBuildTicks: (s: any) => { s.ticks = [0, 20, 30, 40, 50].map((value) => ({ value })); },
            grid: {
              lineWidth: 1.5, tickLength: 8, tickColor: GRID,
              color: (c: any) => ([0, 30, 50].includes(c.tick?.value) ? GRID : "rgba(0,0,0,0)"),
            },
            border: { color: GRID, width: 1 },
            ticks: {
              padding: 2, labelOffset: 2, color: "#222222", font: { family: "Noto Sans", size: 16.5 }, autoSkip: false,
              callback: (v: any) => ([20, 30, 40].includes(Number(v)) ? String(v) : ""),
            },
          },
          yTime: {
            type: "linear", position: "right", stack: "panes", stackWeight: 68, min: -175, max: 1525,
            afterFit: fixW,
            afterBuildTicks: (s: any) => { s.ticks = [0, 1375].map((value) => ({ value })); },
            grid: { color: GRID, lineWidth: 1.5, tickLength: 0 },
            border: { color: GRID, width: 1 },
            ticks: { display: false },
          },
        },
      } as any,
    });
    return () => chart.destroy();
  }, []);
  return <canvas ref={ref} width={2378} height={1899} style={{ position: "fixed", left: 0, top: 0, display: "block" }} />;
}
